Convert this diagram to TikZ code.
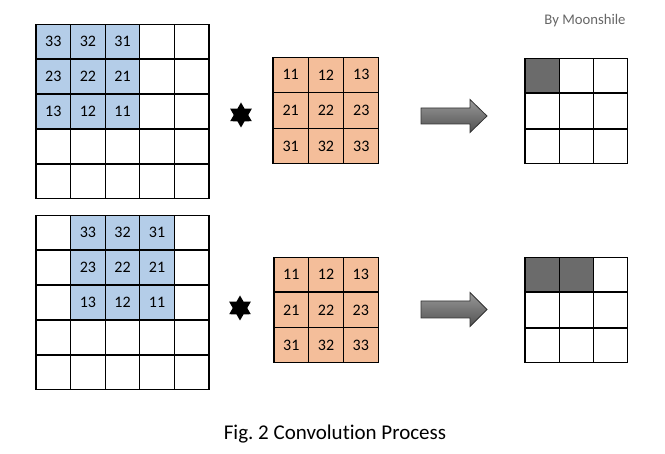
\documentclass[tikz,border=0pt]{standalone}
\usepackage{fontspec}
\setmainfont{Carlito}[Ligatures=NoCommon]
\usepackage{tikz}
\usetikzlibrary{shapes,arrows,shapes.geometric,positioning}
\definecolor{inblue}{HTML}{B4CDE8}
\definecolor{kerorange}{HTML}{F4BE9A}
\definecolor{outgray}{HTML}{6B6B6B}
\frenchspacing
\tikzstyle{cell} = [draw, line width=1.1pt, minimum size=34.6pt, inner sep=0pt,
    font=\fontsize{16}{18}\selectfont]
\tikzstyle{bigarrow} = [draw=black!80, line width=0.8pt, line join=miter,
    top color=black!40, bottom color=black!68]
\tikzstyle{conv} = [star, star points=6, star point ratio=1.73, fill=black,
    minimum size=25pt, inner sep=0pt]

\begin{document}
\begin{tikzpicture}[x=1pt, y=-1pt]
  \useasboundingbox (0,0) rectangle (665,454);
  % first step
  \foreach \r in {1,...,5}
    \foreach \c in {1,...,5}
      \node [cell] (a\r\c) at (36+34.6*\c-17.3, 24+35*\r-17.5) {};
  \foreach \r in {1,2,3}
    \foreach \c in {1,2,3} {
      \pgfmathtruncatemacro{\v}{(4-\r)*10+(4-\c)}
      \node [cell, fill=inblue] (a\r\c) at (36+34.6*\c-17.3, 24+35*\r-17.5) {\v};
    }
  \node [conv] (s1) at (241,115) {};
  \foreach \r in {1,2,3}
    \foreach \c in {1,2,3}
      \node [cell, fill=kerorange, minimum size=35.3pt] (k\r\c) at (273+35.3*\c-17.65, 57+35.7*\r-17.85) {\r\c};
  \coordinate (arr1) at (421,116);
  \draw [bigarrow] (arr1) ++(0,-8) -- ++(49,0) -- ++(0,-8.5) -- ++(17,16.5)
    -- ++(-17,16.5) -- ++(0,-8.5) -- ++(-49,0) -- cycle;
  \foreach \r in {1,2,3}
    \foreach \c in {1,2,3}
      \node [cell, minimum size=34.3pt] (o\r\c) at (525+34.3*\c-17.15, 58+35.3*\r-17.65) {};
  \node [cell, fill=outgray, minimum size=34.3pt] (o11) at (525+17.15, 58+17.65) {};
  % second step
  \foreach \r in {1,...,5}
    \foreach \c in {1,...,5}
      \node [cell] (b\r\c) at (36+34.6*\c-17.3, 215+35*\r-17.5) {};
  \foreach \r in {1,2,3}
    \foreach \c in {2,3,4} {
      \pgfmathtruncatemacro{\v}{(4-\r)*10+(5-\c)}
      \node [cell, fill=inblue] (b\r\c) at (36+34.6*\c-17.3, 215+35*\r-17.5) {\v};
    }
  \node [conv] (s2) at (240,308) {};
  \foreach \r in {1,2,3}
    \foreach \c in {1,2,3}
      \node [cell, fill=kerorange, minimum size=34.7pt] (m\r\c) at (274+34.7*\c-17.35, 257+35.3*\r-17.65) {\r\c};
  \coordinate (arr2) at (421,309.5);
  \draw [bigarrow] (arr2) ++(0,-8.5) -- ++(49,0) -- ++(0,-8.5) -- ++(17,17)
    -- ++(-17,17) -- ++(0,-8.5) -- ++(-49,0) -- cycle;
  \foreach \r in {1,2,3}
    \foreach \c in {1,2,3}
      \node [cell, minimum size=34.3pt] (p\r\c) at (525+34.3*\c-17.15, 257+35.3*\r-17.65) {};
  \foreach \c in {1,2}
    \node [cell, fill=outgray, minimum size=34.3pt] (p1\c) at (525+34.3*\c-17.15, 257+17.65) {};
  % labels
  \node [text=black!60, font=\fontsize{14.7}{17}\selectfont] (auth) at (585,21) {By Moonshile};
  \node [font=\fontsize{21}{24}\selectfont] (cap) at (335,434) {Fig. 2 Convolution Process};
\end{tikzpicture}
\end{document}
